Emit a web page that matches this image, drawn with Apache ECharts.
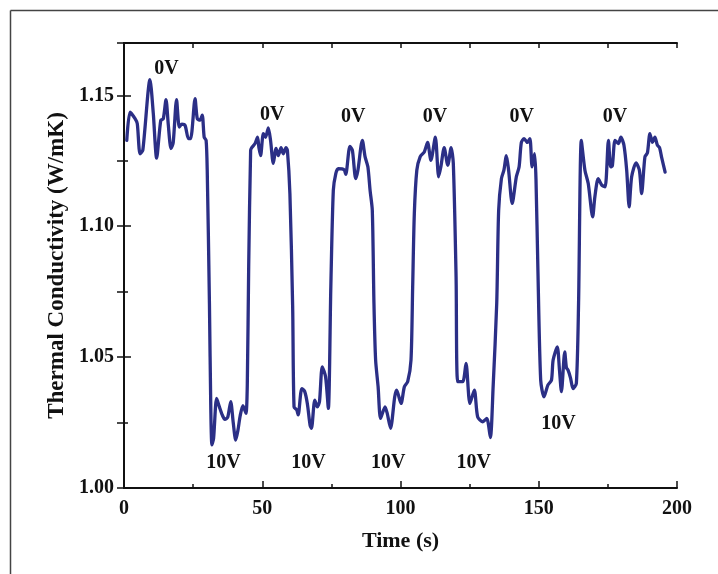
<!DOCTYPE html>
<html>
<head>
<meta charset="utf-8">
<script src="https://cdn.jsdelivr.net/npm/echarts@6/dist/echarts.min.js"></script>
<style>
html,body{margin:0;padding:0;background:#fff;}
#chart{width:718px;height:574px;}
</style>
</head>
<body>
<div id="chart"></div>
<script>
// Time (s)
var times = [
1.0,2.2,4.0,4.8,5.8,6.8,9.4,10.6,11.8,13.3,14.2,15.2,16.0,17.0,17.8,19.0,20.0,20.9,22.1,23.3,24.1,25.7,26.5,27.5,28.3,29.0,29.7,30.1,30.9,31.4,31.8,32.4,33.5,34.5,35.5,36.5,37.5,38.6,39.5,40.4,41.2,42.0,43.0,44.1,44.6,45.1,45.8,
46.2,47.4,48.3,48.8,49.4,50.4,51.2,52.2,53.0,54.0,55.0,55.8,56.8,57.6,58.6,59.1,60.0,61.0,61.5,62.5,63.0,64.3,65.3,66.3,67.3,67.8,69.0,69.9,70.7,71.7,72.9,73.9,74.8,75.7,76.6,77.5,79.6,80.2,81.7,82.6,83.8,84.6,86.2,87.2,88.2,89.0,89.8,90.4,91.0,91.9,92.8,94.4,95.2,96.4,97.9,98.6,
100.2,101.4,102.6,103.8,104.4,105.0,105.9,107.1,108.6,109.8,111.0,112.6,113.8,114.6,115.8,117.1,118.3,119.1,120.1,120.7,122.5,123.7,125.1,126.7,127.9,129.7,131.2,132.5,133.5,134.8,135.5,136.5,137.4,138.3,139.1,140.4,141.9,142.9,143.7,144.7,145.9,146.8,147.6,148.5,149.0,149.7,150.7,151.9,153.3,154.6,155.2,156.7,157.5,158.2,159.4,160.0,160.6,161.5,162.4,163.6,164.4,165.4,
166.7,167.9,169.5,170.3,171.5,172.8,174.0,175.2,176.0,176.6,177.6,178.8,179.7,180.8,181.8,182.7,183.6,185.2,186.4,187.2,188.4,189.3,190.2,191.1,192.0,192.9,193.7,194.4,195.7
];
// Thermal conductivity (W/mK)
var conductivity = [
1.1328,1.1436,1.1411,1.1392,1.1277,1.1290,1.1560,1.1430,1.1260,1.1405,1.1410,1.1484,1.1390,1.1297,1.1320,1.1484,1.1379,1.1390,1.1385,1.1335,1.1335,1.1487,1.1411,1.1405,1.1424,1.1340,1.1328,1.1214,1.0705,1.0298,1.0165,1.0190,1.0342,1.0310,1.0280,1.0262,1.0270,1.0330,1.0250,1.0183,1.0220,1.0275,1.0315,1.0285,1.0400,1.0850,1.1290,
1.1300,1.1316,1.1340,1.1300,1.1270,1.1354,1.1340,1.1376,1.1328,1.1240,1.1297,1.1270,1.1300,1.1277,1.1300,1.1290,1.1125,1.0692,1.0310,1.0298,1.0279,1.0380,1.0370,1.0323,1.0240,1.0228,1.0336,1.0310,1.0330,1.0463,1.0425,1.0304,1.0768,1.1137,1.1201,1.1220,1.1216,1.1198,1.1305,1.1290,1.1182,1.1214,1.1328,1.1265,1.1227,1.1137,1.1061,1.0705,1.0489,1.0387,1.0266,1.0310,1.0285,1.0228,1.0348,1.0374,
1.0323,1.0387,1.0406,1.0489,1.0768,1.1048,1.1214,1.1265,1.1284,1.1320,1.1252,1.1340,1.1189,1.1227,1.1300,1.1233,1.1300,1.1240,1.0807,1.0406,1.0406,1.0476,1.0323,1.0374,1.0272,1.0253,1.0266,1.0193,1.0387,1.0705,1.1061,1.1182,1.1214,1.1270,1.1214,1.1087,1.1189,1.1227,1.1320,1.1335,1.1320,1.1335,1.1227,1.1277,1.1180,1.0832,1.0412,1.0348,1.0393,1.0412,1.0489,1.0539,1.0450,1.0368,1.0520,1.0460,1.0450,1.0420,1.0380,1.0400,1.0705,1.1328,
1.1214,1.1163,1.1036,1.1113,1.1182,1.1157,1.1150,1.1328,1.1227,1.1230,1.1328,1.1316,1.1340,1.1310,1.1214,1.1074,1.1189,1.1242,1.1214,1.1125,1.1265,1.1280,1.1354,1.1320,1.1340,1.1310,1.1300,1.1265,1.1207
];
// Voltage annotations
var noteTexts = ['0V','0V','0V','0V','0V','0V','10V','10V','10V','10V','10V'];
var noteTimes = [15.4,53.6,82.9,112.5,143.8,177.6,36.0,66.7,95.6,126.5,157.1];
var noteValues = [1.1603,1.1424,1.1417,1.1417,1.1417,1.1417,1.0095,1.0095,1.0095,1.0095,1.0245];

var xTicks = {min:0, max:200, interval:50};
var yTicks = {min:1.00, max:1.17, interval:0.05};

var FONT = '"Liberation Serif", "Times New Roman", serif';
var lineData = times.map(function(t,i){return [t, conductivity[i]];});
var noteData = noteTimes.map(function(t,i){return [t, noteValues[i], noteTexts[i]];});

var chart = echarts.init(document.getElementById('chart'));
chart.setOption({
  animation:false,
  backgroundColor:'#fff',
  grid:{left:124, top:43, right:41, bottom:86},
  graphic:[
    {type:'line', shape:{x1:10.5,y1:10.5,x2:718,y2:10.5}, style:{stroke:'#444',lineWidth:1.5}, silent:true},
    {type:'line', shape:{x1:10.5,y1:10.5,x2:10.5,y2:574}, style:{stroke:'#444',lineWidth:1.5}, silent:true}
  ],
  xAxis:[
    {type:'value', position:'bottom', min:xTicks.min, max:xTicks.max, interval:xTicks.interval,
     name:'Time (s)', nameLocation:'middle', nameGap:42,
     nameTextStyle:{fontFamily:FONT, fontWeight:'bold', fontSize:22, color:'#111'},
     axisLine:{lineStyle:{color:'#111', width:2}},
     axisTick:{inside:true, length:7, lineStyle:{color:'#111', width:1.5}},
     minorTick:{show:true, splitNumber:2, length:4, lineStyle:{color:'#111', width:1.5}},
     axisLabel:{fontFamily:FONT, fontWeight:'bold', fontSize:20, color:'#111', margin:11},
     splitLine:{show:false}},
    {type:'value', position:'top', min:0, max:200, interval:25,
     axisLine:{show:true, lineStyle:{color:'#111', width:2}},
     axisTick:{inside:true, length:5, lineStyle:{color:'#111', width:1.5}},
     axisLabel:{show:false}, splitLine:{show:false}}
  ],
  yAxis:[
    {type:'value', position:'left', min:yTicks.min, max:yTicks.max, interval:yTicks.interval,
     name:'Thermal Conductivity (W/mK)', nameLocation:'middle', nameGap:49, nameRotate:90,
     nameTextStyle:{fontFamily:FONT, fontWeight:'bold', fontSize:23, color:'#111'},
     axisLine:{show:true, lineStyle:{color:'#111', width:2}},
     axisTick:{inside:true, length:7, lineStyle:{color:'#111', width:1.5}},
     minorTick:{show:true, splitNumber:2, length:4, lineStyle:{color:'#111', width:1.5}},
     axisLabel:{fontFamily:FONT, fontWeight:'bold', fontSize:20, color:'#111', margin:10,
       showMaxLabel:false,
       formatter:function(v){return v.toFixed(2);}},
     splitLine:{show:false}},
    {type:'value', position:'right', min:1.00, max:1.17, interval:0.025,
     axisLine:{show:true, lineStyle:{color:'#111', width:2}},
     axisTick:{inside:true, length:7, lineStyle:{color:'#111', width:1.5}},
     axisLabel:{show:false}, splitLine:{show:false}}
  ],
  series:[
    {type:'line', xAxisIndex:0, yAxisIndex:0, data:lineData, showSymbol:false, smooth:0.25,
     lineStyle:{color:'#2b2f86', width:3.3, join:'round', cap:'round'}},
    {type:'scatter', xAxisIndex:0, yAxisIndex:0, data:noteData, symbolSize:1, z:5,
     itemStyle:{color:'rgba(0,0,0,0)', opacity:1},
     label:{show:true, position:'inside', fontFamily:FONT, fontWeight:'bold', fontSize:20, color:'#111',
       formatter:function(p){return p.data[2];}}}
  ]
});
</script>
</body>
</html>
